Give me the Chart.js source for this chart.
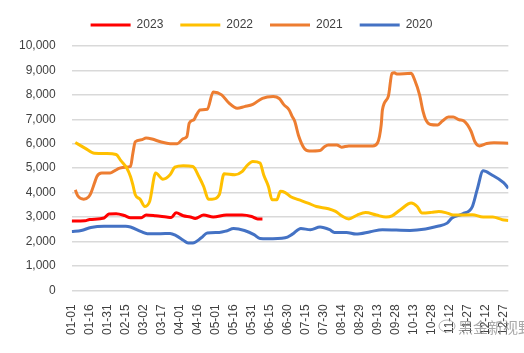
<!DOCTYPE html>
<html>
<head>
<meta charset="utf-8">
<script src="https://cdn.jsdelivr.net/npm/chart.js@4.4.0/dist/chart.umd.min.js"></script>
<style>
  html, body { margin: 0; padding: 0; background: #fff; }
</style>
</head>
<body>
<canvas id="chart" width="524" height="353"></canvas>
<script>
// Données : [jour de l'année, valeur]
const seriesNames = ['2023', '2022', '2021', '2020'];
const seriesColors = ['#ff0000', '#ffc000', '#ed7d31', '#4472c4'];

const tickLabels = ['01-01', '01-16', '01-31', '02-15', '03-02', '03-17', '04-01', '04-16',
  '05-01', '05-16', '05-31', '06-15', '06-30', '07-15', '07-30', '08-14', '08-29', '09-13',
  '09-28', '10-13', '10-28', '11-12', '11-27', '12-12', '12-27'];

const data2023 = [[1, 2840], [12, 2850], [16, 2900], [28, 2960], [32, 3120], [38, 3130], [45, 3060],
  [50, 2970], [59, 2970], [63, 3080], [71, 3050], [80, 3000], [84, 2980], [88, 3170], [94, 3050],
  [100, 3000], [104, 2940], [111, 3080], [119, 3000], [130, 3080], [143, 3080], [151, 3020],
  [156, 2920], [160, 2920]];

const data2022 = [[4, 6050], [12, 5820], [20, 5610], [30, 5600], [38, 5560], [42, 5310], [47, 5000],
  [50, 4660], [52, 4320], [54, 3910], [58, 3730], [62, 3430], [66, 3640], [71, 4800], [77, 4550],
  [83, 4730], [87, 5040], [94, 5100], [102, 5070], [107, 4660], [111, 4250], [115, 3730], [118, 3730],
  [124, 3910], [128, 4770], [137, 4730], [143, 4860], [147, 5100], [152, 5270], [158, 5210],
  [161, 4730], [165, 4250], [168, 3710], [172, 3710], [175, 4050], [179, 4000], [184, 3820],
  [190, 3710], [198, 3570], [205, 3430], [215, 3340], [221, 3230], [226, 3050], [232, 2920],
  [239, 3080], [246, 3180], [255, 3080], [263, 3000], [268, 3050], [275, 3300], [284, 3570],
  [289, 3430], [293, 3160], [301, 3190], [307, 3230], [314, 3160], [319, 3080], [335, 3090],
  [344, 3000], [352, 3000], [360, 2890], [365, 2860]];

const data2021 = [[4, 4110], [6, 3870], [11, 3730], [15, 3820], [17, 3980], [20, 4390], [22, 4660],
  [26, 4800], [33, 4800], [37, 4900], [41, 5000], [46, 5040], [50, 5070], [52, 5610], [54, 6080],
  [59, 6160], [63, 6230], [68, 6190], [75, 6080], [83, 6000], [89, 6000], [94, 6210], [97, 6290],
  [99, 6840], [103, 6990], [105, 7180], [108, 7380], [114, 7410], [119, 8120], [126, 8000],
  [132, 7670], [139, 7450], [145, 7520], [152, 7610], [160, 7860], [169, 7930], [174, 7850],
  [178, 7590], [182, 7400], [185, 7100], [187, 6910], [190, 6350], [195, 5800], [199, 5700],
  [208, 5720], [212, 5890], [215, 5950], [222, 5950], [226, 5860], [232, 5910], [252, 5910],
  [256, 6040], [259, 6770], [260, 7380], [265, 7950], [268, 8880], [270, 8910], [272, 8850],
  [284, 8880], [287, 8600], [291, 8000], [294, 7300], [296, 7000], [300, 6790], [306, 6770],
  [310, 6930], [315, 7090], [319, 7090], [324, 6980], [328, 6930], [334, 6500], [337, 6090],
  [341, 5910], [347, 6010], [353, 6040], [365, 6020]];

const data2020 = [[1, 2410], [9, 2450], [17, 2570], [28, 2620], [46, 2620], [50, 2590], [59, 2400],
  [64, 2320], [75, 2320], [83, 2330], [88, 2240], [94, 2050], [98, 1940], [102, 1940], [109, 2150],
  [114, 2350], [124, 2370], [130, 2430], [136, 2530], [145, 2450], [153, 2280], [158, 2120],
  [164, 2110], [179, 2150], [185, 2300], [192, 2530], [200, 2480], [208, 2590], [216, 2480],
  [220, 2370], [230, 2370], [238, 2300], [250, 2400], [260, 2480], [283, 2450], [296, 2510],
  [306, 2620], [314, 2750], [318, 2960], [327, 3130], [335, 3430], [339, 4120], [344, 4890],
  [351, 4730], [361, 4410], [365, 4180]];

const allSeries = [data2023, data2022, data2021, data2020];

const monthStart = [0, 31, 59, 90, 120, 151, 181, 212, 243, 273, 304, 334];
function dayOfYear(label) {
    const [m, d] = label.split('-').map(Number);
    return monthStart[m - 1] + d;
}
const tickDays = tickLabels.map(dayOfYear);

const textFont = { family: "'Liberation Sans', Arial, sans-serif", size: 12 };

// Agrandit la légende pour laisser l'espace sous elle
const legendSpacer = {
    id: 'legendSpacer',
    beforeInit(chart) {
        const origFit = chart.legend.fit;
        chart.legend.fit = function () {
            origFit.call(this);
            this.height += 5;
        };
    }
};

// Filigrane en bas à droite
const watermark = {
    id: 'watermark',
    afterDraw(chart) {
        const ctx = chart.ctx;
        ctx.save();
        ctx.strokeStyle = 'rgba(150,150,150,0.7)';
        ctx.lineWidth = 1;
        ctx.beginPath();
        ctx.ellipse(447, 326, 8, 6, 0, 0, Math.PI * 2);
        ctx.stroke();
        ctx.font = "15px 'Noto Sans CJK SC'";
        ctx.fillStyle = 'rgba(140,140,140,0.75)';
        ctx.textBaseline = 'middle';
        ctx.fillText('黑金新视野', 458, 327);
        ctx.restore();
    }
};

new Chart(document.getElementById('chart'), {
    type: 'line',
    data: {
        datasets: seriesNames.map((name, i) => ({
            label: name,
            data: allSeries[i].map(p => ({ x: p[0], y: p[1] })),
            borderColor: seriesColors[i],
            backgroundColor: seriesColors[i],
            borderWidth: 3,
            pointRadius: 0,
            cubicInterpolationMode: 'monotone',
            fill: false
        }))
    },
    options: {
        responsive: false,
        animation: false,
        layout: { padding: { left: 3, right: 4, top: 2, bottom: 12 } },
        plugins: {
            legend: {
                position: 'top',
                labels: {
                    font: textFont,
                    color: '#404040',
                    boxWidth: 40,
                    boxHeight: 3,
                    padding: 17,
                    generateLabels(chart) {
                        return Chart.defaults.plugins.legend.labels.generateLabels(chart)
                            .map(l => Object.assign(l, { lineWidth: 0 }));
                    }
                }
            },
            tooltip: { enabled: false }
        },
        scales: {
            x: {
                type: 'linear',
                min: 1,
                max: 365,
                grid: { display: false },
                border: { display: false },
                afterBuildTicks(scale) {
                    scale.ticks = tickDays.map(v => ({ value: v }));
                },
                ticks: {
                    autoSkip: false,
                    minRotation: 90,
                    maxRotation: 90,
                    padding: 6,
                    font: textFont,
                    color: '#404040',
                    callback: (value) => tickLabels[tickDays.indexOf(value)]
                }
            },
            y: {
                min: 0,
                max: 10000,
                grid: { color: '#d9d9d9', lineWidth: 1.5, drawTicks: false },
                border: { display: false },
                ticks: {
                    stepSize: 1000,
                    padding: 16,
                    font: textFont,
                    color: '#404040',
                    callback: (value) => value.toLocaleString('en-US')
                }
            }
        }
    },
    plugins: [legendSpacer, watermark]
});
</script>
</body>
</html>
